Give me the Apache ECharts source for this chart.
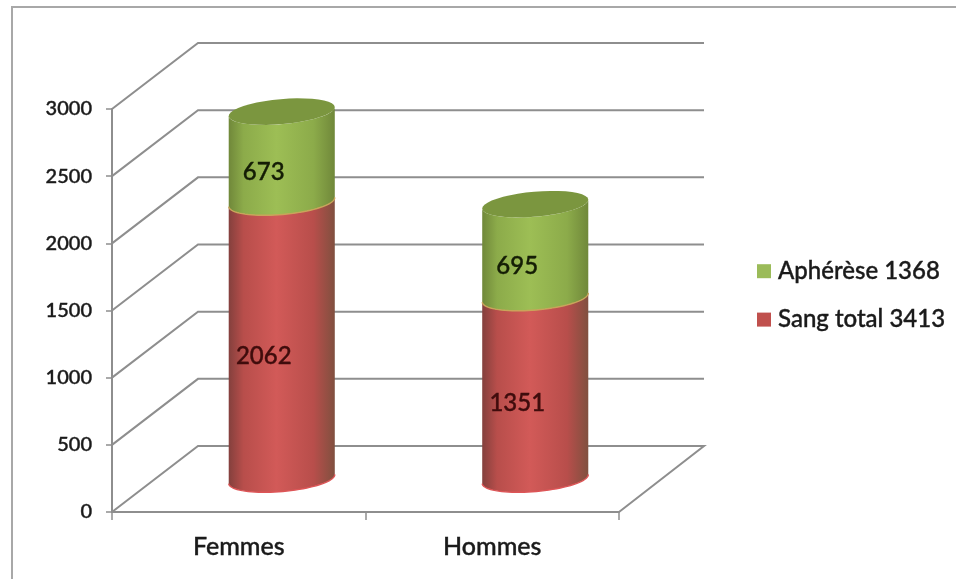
<!DOCTYPE html>
<html>
<head>
<meta charset="utf-8">
<style>html,body{margin:0;padding:0;background:#fff}#c{width:956px;height:579px}</style>
<script src="https://cdn.jsdelivr.net/npm/echarts@6/dist/echarts.min.js"></script>
</head>
<body>
<div id="c"></div>
<script>
const categories = ['Femmes', 'Hommes'];
const sangTotal = [2062, 1351];
const apherese = [673, 695];
const yTicks = [0, 500, 1000, 1500, 2000, 2500, 3000];
const seriesNames = ['Aphérèse 1368', 'Sang total 3413'];

const FONT = 'Lato';
const DEPTH_X = 86, DEPTH_Y = 66;
const GRID = '#8e8e8e';
const TILT = -5 * Math.PI / 180;
const RY = 12.5;

function ellipsePoint(cx, cy, rx, t) {
  const ex = rx * Math.cos(t), ey = RY * Math.sin(t);
  return [cx + ex * Math.cos(TILT) - ey * Math.sin(TILT),
          cy + ex * Math.sin(TILT) + ey * Math.cos(TILT)];
}
function arc(cx, cy, rx, from, to) {
  const pts = [];
  for (let i = 0; i <= 40; i++) pts.push(ellipsePoint(cx, cy, rx, from + (to - from) * i / 40));
  return pts;
}
function hGrad(edgeL, mid, edgeR) {
  return new echarts.graphic.LinearGradient(0, 0, 1, 0, [
    {offset: 0, color: edgeL}, {offset: 0.14, color: mid[0]},
    {offset: 0.45, color: mid[1]}, {offset: 0.8, color: mid[0]}, {offset: 1, color: edgeR}
  ]);
}

function renderWall(params, api) {
  const v = api.value(0);
  const cs = params.coordSys;
  const y = api.coord([0, v])[1];
  const x0 = cs.x, x1 = cs.x + cs.width;
  const pts = [[x0, y], [x0 + DEPTH_X, y - DEPTH_Y], [x1 + DEPTH_X - 1, y - DEPTH_Y]];
  if (v === 0) pts.push([x1, y]);
  return {type: 'polyline', shape: {points: pts}, silent: true,
          style: {stroke: GRID, lineWidth: 2, fill: null}};
}

function makeRender(style, showTop) {
  return function (params, api) {
    const cat = api.value(0), base = api.value(1), val = api.value(2);
    const rx = api.size([1, 0])[0] * 0.42 / 2;
    const p0 = api.coord([cat, base]), p1 = api.coord([cat, base + val]);
    const cx = p0[0] + DEPTH_X / 2, yb = p0[1] - DEPTH_Y / 2, yt = p1[1] - DEPTH_Y / 2;
    const low = arc(cx, yb, rx, Math.PI, 0);
    const children = [{type: 'polygon', shape: {points: low.concat(arc(cx, yt, rx, 0, Math.PI))},
      style: {fill: style.body}, silent: true},
      {type: 'polyline', shape: {points: low},
      style: {stroke: style.rim, lineWidth: 1.4, fill: null}, silent: true}];
    if (showTop) children.push({type: 'polygon', shape: {points: arc(cx, yt, rx, 0, Math.PI * 2)},
      style: {fill: style.top}, silent: true});
    const my = api.coord([cat, base + val / 2]);
    children.push({type: 'text', silent: true, style: {
      text: String(val), x: my[0] + 25, y: my[1] - 17.5,
      align: 'center', verticalAlign: 'middle',
      font: '500 24px ' + FONT, fill: style.label,
      stroke: style.label, lineWidth: 0.4
    }});
    return {type: 'group', children: children};
  };
}

const redStyle = {
  body: hGrad('#84403d', ['#b84e4b', '#d25a58'], '#80503f'),
  rim: '#dd5557', label: '#3f0c0c'
};
const greenStyle = {
  body: hGrad('#70883a', ['#8cab4a', '#9dbe55'], '#70883a'),
  top: '#7b963f',
  rim: '#c9a45a', label: '#141d05'
};

const axisText = {fontFamily: FONT, fontWeight: 500, color: '#1a1a1a',
  textBorderColor: '#1a1a1a', textBorderWidth: 0.4};

const chart = echarts.init(document.getElementById('c'), null, {renderer: 'canvas'});
chart.setOption({
  animation: false,
  backgroundColor: '#ffffff',
  graphic: [{type: 'rect', z: -1, silent: true,
    shape: {x: 12, y: 7, width: 1000, height: 640},
    style: {fill: null, stroke: '#a8a8a8', lineWidth: 2}}],
  grid: {left: 112, right: 337, top: 109, bottom: 67},
  legend: {
    orient: 'vertical', left: 757, top: 259, padding: 0, icon: 'rect',
    itemWidth: 14, itemHeight: 14, itemGap: 24,
    data: [
      {name: seriesNames[0], itemStyle: {color: '#9bbb59'}},
      {name: seriesNames[1], itemStyle: {color: '#c0504d'}}
    ],
    textStyle: Object.assign({}, axisText, {fontSize: 24, padding: [0, 0, 0, 2]}),
    selectedMode: false
  },
  xAxis: {
    type: 'category', data: categories,
    axisLine: {lineStyle: {color: GRID, width: 2}},
    axisTick: {show: true, alignWithLabel: false, length: 8, lineStyle: {color: GRID, width: 1.5}},
    axisLabel: Object.assign({}, axisText, {fontSize: 25, margin: 22})
  },
  yAxis: {
    type: 'value', min: yTicks[0], max: yTicks[yTicks.length - 1], interval: 500,
    axisLine: {show: true, lineStyle: {color: GRID, width: 2}},
    axisTick: {show: true, length: 6, lineStyle: {color: GRID, width: 1.5}},
    splitLine: {show: false},
    axisLabel: Object.assign({}, axisText, {fontSize: 20, margin: 20, formatter: v => String(v)})
  },
  series: [
    {type: 'custom', name: 'walls', renderItem: renderWall, z: 1, silent: true,
     data: yTicks.map(v => [v]), encode: {y: 0}, clip: false},
    {type: 'custom', name: seriesNames[1], renderItem: makeRender(redStyle, false), z: 2, silent: true,
     data: categories.map((c, i) => [i, 0, sangTotal[i]]), encode: {x: 0, y: 2}, clip: false,
     itemStyle: {color: '#c0504d'}},
    {type: 'custom', name: seriesNames[0], renderItem: makeRender(greenStyle, true), z: 3, silent: true,
     data: categories.map((c, i) => [i, sangTotal[i], apherese[i]]), encode: {x: 0, y: 2}, clip: false,
     itemStyle: {color: '#9bbb59'}}
  ]
});
</script>
</body>
</html>
